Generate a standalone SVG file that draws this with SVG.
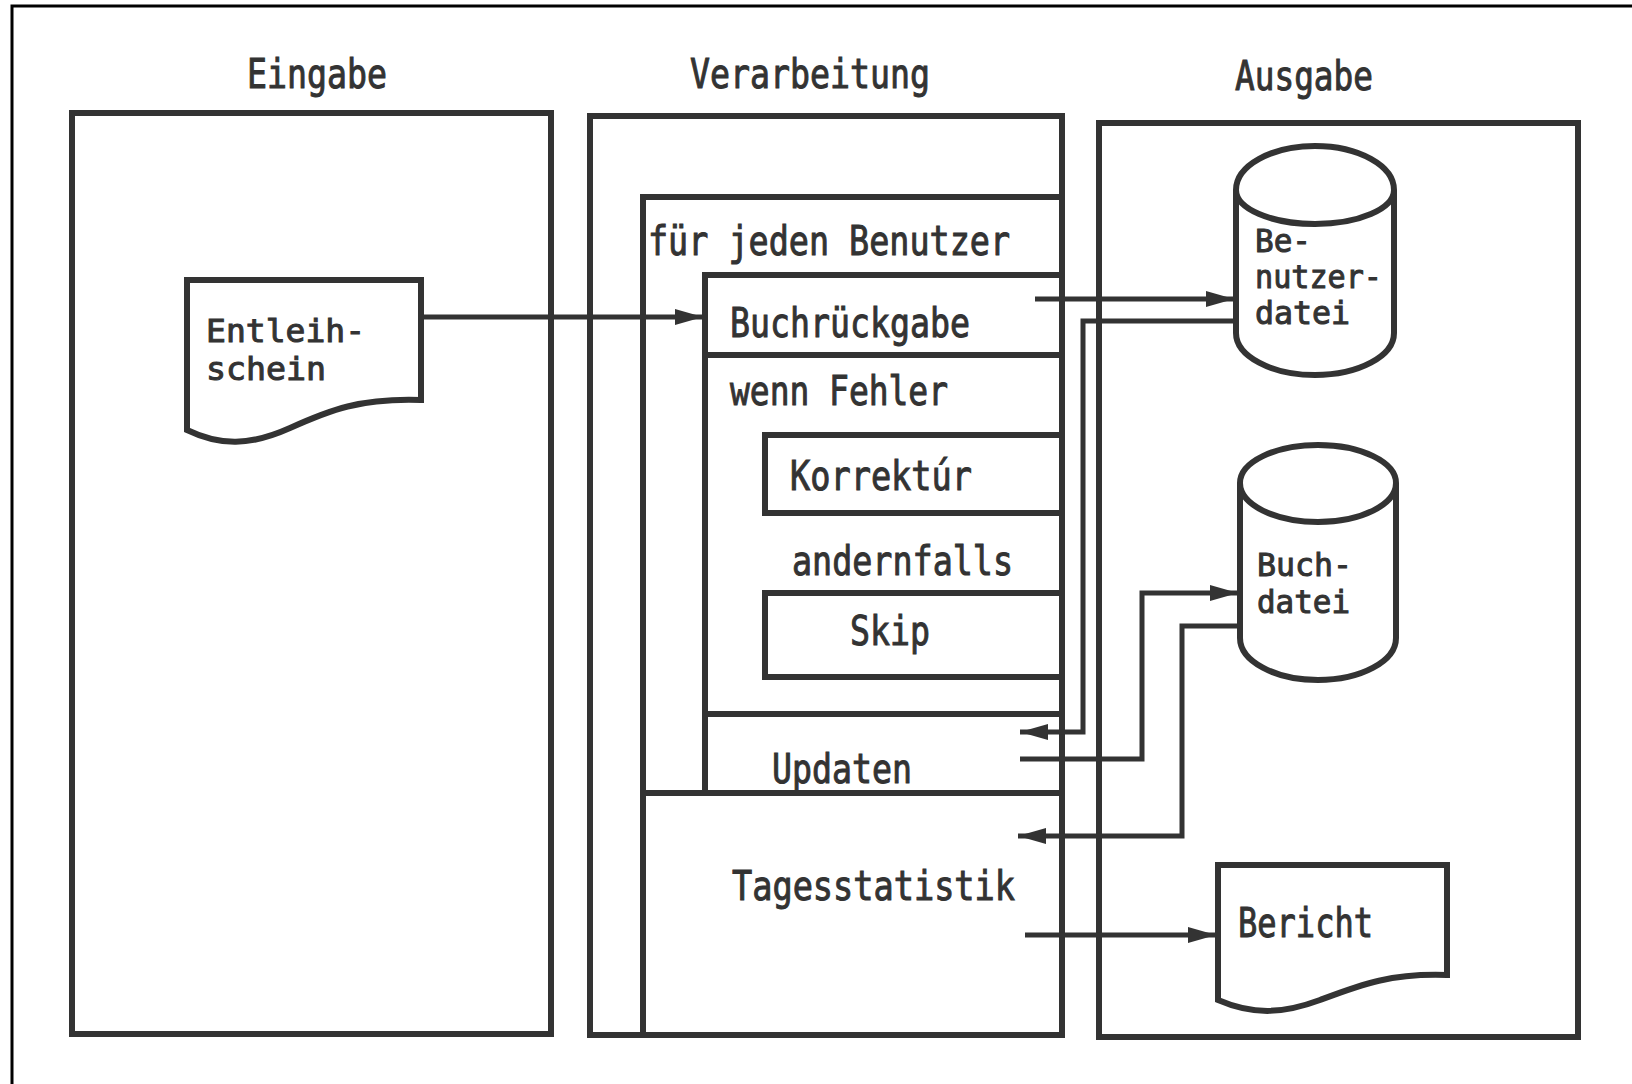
<svg xmlns="http://www.w3.org/2000/svg" width="1632" height="1084" viewBox="0 0 1632 1084">
<style>
.box{fill:none;stroke:#333;stroke-width:6;stroke-linejoin:miter}
.ln{fill:none;stroke:#333;stroke-width:6}
.con{fill:none;stroke:#333;stroke-width:5}
.t{font-family:"DejaVu Sans Mono","Liberation Mono",monospace;font-size:40px;fill:#333;stroke:#333;stroke-width:1}
.ts{font-family:"DejaVu Sans Mono","Liberation Mono",monospace;font-size:32px;fill:#333;stroke:#333;stroke-width:1}
</style>
<defs>
<marker id="arr" viewBox="0 0 28 16" refX="28" refY="8" markerWidth="28" markerHeight="16" markerUnits="userSpaceOnUse" orient="auto">
<path d="M0,0 L28,8 L0,16 z" fill="#333"/>
</marker>
</defs>
<rect width="1632" height="1084" fill="#fff"/>
<path d="M12,1084 V6 H1632" fill="none" stroke="#000" stroke-width="3"/>

<g id="eingabe">
<text class="t" x="247" y="88" textLength="140" lengthAdjust="spacingAndGlyphs">Eingabe</text>
<rect class="box" x="72" y="113" width="479" height="921"/>
</g>

<g id="verarbeitung">
<text class="t" x="690" y="88" textLength="240" lengthAdjust="spacingAndGlyphs">Verarbeitung</text>
<rect class="box" x="590" y="116" width="472" height="919"/>
</g>

<g id="ausgabe">
<text class="t" x="1235" y="90" textLength="138" lengthAdjust="spacingAndGlyphs">Ausgabe</text>
<rect class="box" x="1099" y="123" width="479" height="914"/>
</g>

<g id="entleihschein">
<path class="box" d="M187,280 H421 V400 C360,398 330,410 290,428 C250,446 220,446 187,430 Z"/>
<text class="ts" x="206" y="342" textLength="159" lengthAdjust="spacingAndGlyphs">Entleih-</text>
<text class="ts" x="206" y="380" textLength="120" lengthAdjust="spacingAndGlyphs">schein</text>
</g>

<g id="schleife">
<path class="ln" d="M643,1035 V197 H1062"/>
<text class="t" x="648" y="255" textLength="362" lengthAdjust="spacingAndGlyphs">für jeden Benutzer</text>
</g>

<g id="buchrueckgabe">
<path class="ln" d="M705,793 V275 H1062"/>
<text class="t" x="730" y="337" textLength="240" lengthAdjust="spacingAndGlyphs">Buchrückgabe</text>
</g>

<g id="wenn-fehler">
<path class="ln" d="M705,355 H1062"/>
<text class="t" x="730" y="405" textLength="218" lengthAdjust="spacingAndGlyphs">wenn Fehler</text>
</g>

<g id="korrektur">
<path class="ln" d="M1062,435 H765 V513 H1062"/>
<text class="t" x="790" y="490" textLength="182" lengthAdjust="spacingAndGlyphs">Korrektúr</text>
</g>

<g id="andernfalls">
<text class="t" x="792" y="575" textLength="221" lengthAdjust="spacingAndGlyphs">andernfalls</text>
</g>

<g id="skip">
<path class="ln" d="M1062,593 H765 V677 H1062"/>
<text class="t" x="850" y="645" textLength="80" lengthAdjust="spacingAndGlyphs">Skip</text>
</g>

<g id="updaten">
<path class="ln" d="M705,714 H1062"/>
<text class="t" x="772" y="783" textLength="140" lengthAdjust="spacingAndGlyphs">Updaten</text>
</g>

<g id="tagesstatistik">
<path class="ln" d="M643,793 H1062"/>
<text class="t" x="732" y="900" textLength="283" lengthAdjust="spacingAndGlyphs">Tagesstatistik</text>
</g>

<g id="benutzerdatei">
<path class="box" d="M1236,190 A79,44 0 0 1 1394,190 A79,34 0 0 1 1236,190 Z"/>
<path class="box" d="M1236,190 V333 A79,42 0 0 0 1394,333 V190"/>
<text class="ts" x="1255" y="252" textLength="56" lengthAdjust="spacingAndGlyphs">Be-</text>
<text class="ts" x="1255" y="288" textLength="127" lengthAdjust="spacingAndGlyphs">nutzer-</text>
<text class="ts" x="1255" y="324" textLength="95" lengthAdjust="spacingAndGlyphs">datei</text>
</g>

<g id="buchdatei">
<path class="box" d="M1240,483 A78,38 0 0 1 1396,483 A78,39 0 0 1 1240,483 Z"/>
<path class="box" d="M1240,483 V638 A78,42 0 0 0 1396,638 V483"/>
<text class="ts" x="1257" y="576" textLength="95" lengthAdjust="spacingAndGlyphs">Buch-</text>
<text class="ts" x="1257" y="613" textLength="93" lengthAdjust="spacingAndGlyphs">datei</text>
</g>

<g id="bericht">
<path class="box" d="M1218,865 H1447 V975 C1390,973 1360,985 1320,1000 C1285,1013 1255,1016 1218,1000 Z"/>
<text class="t" x="1238" y="937" textLength="135" lengthAdjust="spacingAndGlyphs">Bericht</text>
</g>

<g id="connectors">
<path class="con" d="M421,317 H703" marker-end="url(#arr)"/>
<path class="con" d="M1035,299 H1234" marker-end="url(#arr)"/>
<path class="con" d="M1236,321 H1083 V732 H1020" marker-end="url(#arr)"/>
<path class="con" d="M1020,759 H1142 V593 H1238" marker-end="url(#arr)"/>
<path class="con" d="M1240,626 H1182 V836 H1018" marker-end="url(#arr)"/>
<path class="con" d="M1025,935 H1216" marker-end="url(#arr)"/>
</g>
</svg>
